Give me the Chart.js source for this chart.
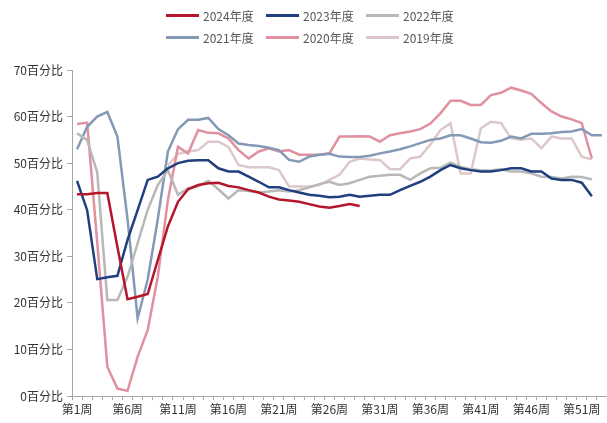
<!DOCTYPE html>
<html>
<head>
<meta charset="utf-8">
<script src="https://cdn.jsdelivr.net/npm/chart.js@4"></script>
<style>
    html, body { margin: 0; padding: 0; background: #ffffff; overflow: hidden; }
    #wrap { position: relative; width: 607px; height: 423px; }
    #legend {
        position: absolute; left: 166px; top: 6px;
        display: grid; grid-template-columns: 100px 100px 100px; row-gap: 4px;
        font: 12px "Noto Sans CJK SC", "Noto Sans", sans-serif; color: #595959;
    }
    .legend-item { display: flex; align-items: center; height: 18px; }
    .legend-line { width: 33px; height: 3px; margin-right: 4px; }
</style>
</head>
<body>
<div id="wrap">
    <canvas id="weeklyChart" width="607" height="423"></canvas>
    <div id="legend"></div>
</div>
<script>
// weeks 1..53
const weekLabels = Array.from({ length: 53 }, (_, i) => '第' + (i + 1) + '周');
const yTicks = [0, 10, 20, 30, 40, 50, 60, 70];

const seriesNames = ['2024年度', '2023年度', '2022年度', '2021年度', '2020年度', '2019年度'];
const seriesColors = ['#B5162B', '#1F3F7E', '#B8B8B8', '#8499B6', '#E0909E', '#DCC8CB'];

const y2024 = [43.3, 43.3, 43.6, 43.6, 32, 20.8, 21.3, 21.9, 29.2, 36.4,
    41.7, 44.4, 45.3, 45.7, 45.8, 45.1, 44.8, 44.2, 43.7, 42.8,
    42.2, 42, 41.7, 41.2, 40.7, 40.4, 40.8, 41.2, 40.8];
const y2023 = [46.2, 39.9, 25.1, 25.5, 25.8, 33.5, 39.9, 46.4, 47.1, 48.9,
    50, 50.5, 50.6, 50.6, 48.9, 48.2, 48.2, 47.1, 46, 44.8,
    44.8, 44.2, 43.7, 43.2, 43, 42.7, 42.8, 43.2, 42.8, 43,
    43.2, 43.2, 44.2, 45.1, 46, 47.1, 48.5, 49.6, 48.9, 48.5,
    48.2, 48.2, 48.5, 48.9, 48.9, 48.2, 48.2, 46.7, 46.4, 46.4,
    45.8, 42.9];
const y2022 = [56.4, 55, 48, 20.6, 20.6, 25.6, 32.8, 40, 45.3, 48.5,
    43.2, 44.6, 45, 46.2, 44.4, 42.4, 44.2, 44, 43.7, 43.9,
    44.2, 43.9, 44.2, 44.8, 45.5, 46, 45.3, 45.7, 46.4, 47.1,
    47.3, 47.5, 47.5, 46.4, 47.8, 48.9, 49, 50.1, 49.2, 48.7,
    48.5, 48.4, 48.7, 48.2, 48.2, 47.8, 47.1, 47, 46.7, 47.1,
    47, 46.5];
const y2021 = [53, 57.8, 60, 61, 55.7, 38, 16.7, 25, 38, 52.5,
    57.3, 59.3, 59.3, 59.7, 57.3, 56, 54.2, 53.9, 53.7, 53.3,
    52.8, 50.7, 50.3, 51.4, 51.8, 52, 51.4, 51.3, 51.3, 51.6,
    52.1, 52.5, 53, 53.6, 54.3, 55, 55.3, 56, 56, 55.3,
    54.5, 54.4, 54.8, 55.7, 55.3, 56.3, 56.3, 56.4, 56.7, 56.8,
    57.3, 56, 56];
const y2020 = [58.4, 58.7, 33, 6.3, 1.6, 1.1, 8.4, 14.2, 25.6, 42.1,
    53.5, 52.1, 57.1, 56.5, 56.4, 55.3, 52.8, 51, 52.5, 53.2,
    52.5, 52.8, 51.8, 51.8, 51.8, 52.1, 55.7, 55.7, 55.8, 55.7,
    54.6, 56, 56.4, 56.8, 57.3, 58.5, 60.7, 63.4, 63.4, 62.5,
    62.5, 64.6, 65.1, 66.2, 65.6, 64.9, 62.9, 61.1, 60, 59.4,
    58.6, 51];
const y2019 = [null, null, null, null, null, null, null, null, null, 49.5,
    52, 52.5, 52.8, 54.6, 54.6, 53.5, 49.6, 49.1, 49.1, 49.1,
    48.5, 45, 45, 45, 45.3, 46.4, 47.5, 50.3, 51, 50.8,
    50.7, 48.7, 48.7, 51, 51.4, 54, 57.1, 58.6, 47.8, 47.8,
    57.5, 58.9, 58.6, 55.3, 55, 55.3, 53.2, 55.7, 55.3, 55.3,
    51.4, 50.8];

const seriesValues = [y2024, y2023, y2022, y2021, y2020, y2019];

function buildLegend() {
    const legend = document.getElementById('legend');
    seriesNames.forEach((name, i) => {
        const item = document.createElement('div');
        item.className = 'legend-item';
        item.innerHTML = '<span class="legend-line" style="background:' + seriesColors[i] + '"></span>' + name;
        legend.appendChild(item);
    });
}

function drawChart() {
    const ctx = document.getElementById('weeklyChart').getContext('2d');
    const axisColor = '#A6A6A6';
    const tickFont = { family: '"Noto Sans CJK SC", "Noto Sans", sans-serif', size: 12 };

    new Chart(ctx, {
        type: 'line',
        data: {
            labels: weekLabels,
            datasets: seriesNames.map((name, i) => ({
                label: name,
                data: seriesValues[i],
                borderColor: seriesColors[i],
                backgroundColor: seriesColors[i],
                borderWidth: 2.5,
                pointRadius: 0,
                tension: 0,
                fill: false,
                spanGaps: false,
            })),
        },
        options: {
            responsive: false,
            animation: false,
            layout: { padding: { top: 70, right: 0, left: 0, bottom: 0 } },
            plugins: {
                legend: { display: false },
                tooltip: { enabled: false },
            },
            scales: {
                x: {
                    offset: true,
                    grid: { drawOnChartArea: false, drawTicks: true, tickLength: 4, color: axisColor, offset: true },
                    border: { display: true, color: axisColor, width: 1 },
                    ticks: {
                        autoSkip: false,
                        maxRotation: 0,
                        padding: 2,
                        color: '#333333',
                        font: tickFont,
                        callback: function(value, index) {
                            return index % 5 === 0 ? weekLabels[index] : '';
                        },
                    },
                    afterFit: function(scale) { scale.height = 27; },
                },
                y: {
                    min: yTicks[0],
                    max: yTicks[yTicks.length - 1],
                    grid: { drawOnChartArea: false, drawTicks: true, tickLength: 5, color: axisColor },
                    border: { display: true, color: axisColor, width: 1 },
                    ticks: {
                        stepSize: 10,
                        padding: 4,
                        color: '#333333',
                        font: tickFont,
                        callback: function(value) { return value + '百分比'; },
                    },
                    afterFit: function(scale) { scale.width = 72; },
                },
            },
        },
    });
}

document.addEventListener('DOMContentLoaded', () => {
    buildLegend();
    drawChart();
});
</script>
</body>
</html>
